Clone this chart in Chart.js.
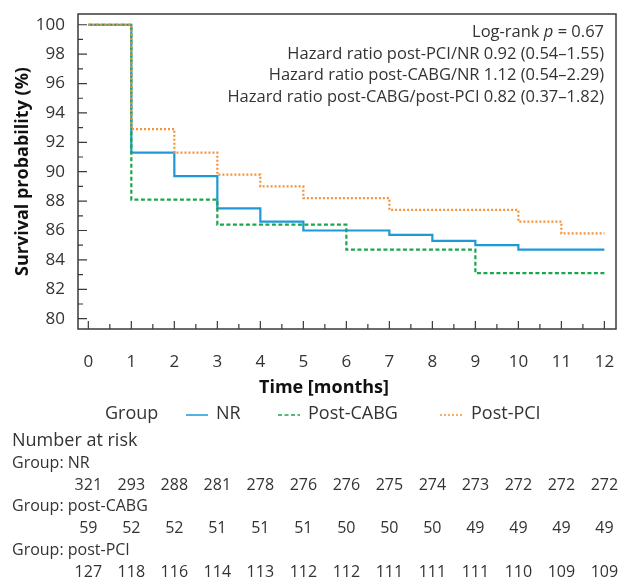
<!DOCTYPE html>
<html>
<head>
<meta charset="utf-8">
<script src="https://cdn.jsdelivr.net/npm/chart.js@4.4.0/dist/chart.umd.min.js"></script>
<style>
  html, body { margin: 0; padding: 0; background: #fff; }
  #wrap { width: 622px; height: 579px; }
</style>
</head>
<body>
<div id="wrap"><canvas id="km" width="622" height="579"></canvas></div>
<script>
// Meses e curvas de sobrevida
const meses = [0, 1, 2, 3, 4, 5, 6, 7, 8, 9, 10, 11, 12];
const survNR   = [100, 91.3, 89.7, 87.5, 86.6, 86.0, 86.0, 85.7, 85.3, 85.0, 84.7, 84.7, 84.7];
const survCABG = [100, 88.1, 88.1, 86.4, 86.4, 86.4, 84.7, 84.7, 84.7, 83.1, 83.1, 83.1, 83.1];
const survPCI  = [100, 92.9, 91.3, 89.8, 89.0, 88.2, 88.2, 87.4, 87.4, 87.4, 86.6, 85.8, 85.8];

// Numero em risco
const riscoNR   = [321, 293, 288, 281, 278, 276, 276, 275, 274, 273, 272, 272, 272];
const riscoCABG = [59, 52, 52, 51, 51, 51, 50, 50, 50, 49, 49, 49, 49];
const riscoPCI  = [127, 118, 116, 114, 113, 112, 112, 111, 111, 111, 110, 109, 109];

const nomes = ["NR", "Post-CABG", "Post-PCI"];
const gruposRisco = ["Group: NR", "Group: post-CABG", "Group: post-PCI"];
const anotacoes = [
  "Hazard ratio post-PCI/NR 0.92 (0.54\u20131.55)",
  "Hazard ratio post-CABG/NR 1.12 (0.54\u20132.29)",
  "Hazard ratio post-CABG/post-PCI 0.82 (0.37\u20131.82)"
];

const FONTE = "'Open Sans', 'Noto Sans', sans-serif";
const COR_TXT = "#333";

const pontos = arr => meses.map((m, i) => ({ x: m, y: arr[i] }));

// Ticks internos, moldura, anotações, legenda e tabela de risco
const extras = {
  id: "extras",
  afterDraw(chart) {
    const { ctx, chartArea: a, scales } = chart;
    const x = scales.x, y = scales.y;
    ctx.save();

    // moldura
    ctx.strokeStyle = "#3a3a3a";
    ctx.lineWidth = 1.5;
    ctx.strokeRect(a.left, a.top, a.right - a.left, a.bottom - a.top);

    // ticks para dentro
    ctx.lineWidth = 1.2;
    ctx.beginPath();
    x.ticks.forEach(t => {
      const px = x.getPixelForValue(t.value);
      ctx.moveTo(px, a.bottom); ctx.lineTo(px, a.bottom - 8);
      const mid = t.value + 0.5;
      if (mid < x.max) {
        const pm = x.getPixelForValue(mid);
        ctx.moveTo(pm, a.bottom); ctx.lineTo(pm, a.bottom - 5);
      }
    });
    y.ticks.forEach(t => {
      const py = y.getPixelForValue(t.value);
      ctx.moveTo(a.left, py); ctx.lineTo(a.left + 9, py);
      const mid = t.value + 1;
      if (mid < y.max) {
        const pm = y.getPixelForValue(mid);
        ctx.moveTo(a.left, pm); ctx.lineTo(a.left + 5, pm);
      }
    });
    ctx.stroke();

    // anotações (canto superior direito)
    ctx.fillStyle = COR_TXT;
    ctx.textBaseline = "middle";
    ctx.textAlign = "left";
    const xr = a.right - 12;
    ctx.font = "16.5px " + FONTE;
    const p1 = "Log-rank ", p3 = " = 0.67";
    const w1 = ctx.measureText(p1).width, w3 = ctx.measureText(p3).width;
    ctx.font = "italic 16.5px " + FONTE;
    const w2 = ctx.measureText("p").width;
    let cx = xr - w1 - w2 - w3;
    ctx.font = "16.5px " + FONTE;
    ctx.fillText(p1, cx, 32);
    ctx.font = "italic 16.5px " + FONTE;
    ctx.fillText("p", cx + w1, 32);
    ctx.font = "16.5px " + FONTE;
    ctx.fillText(p3, cx + w1 + w2, 32);
    ctx.textAlign = "right";
    anotacoes.forEach((s, i) => ctx.fillText(s, xr, 54 + i * 21.7));

    // titulo do eixo x
    ctx.textAlign = "center";
    ctx.fillStyle = "#111";
    ctx.font = "bold 18px " + FONTE;
    ctx.fillText("Time [months]", 324, 388);

    // legenda
    ctx.fillStyle = COR_TXT;
    ctx.font = "18px " + FONTE;
    ctx.textAlign = "left";
    ctx.fillText("Group", 105, 414);
    const legX = [[186, 216], [278, 308], [440, 471]];
    chart.data.datasets.forEach((ds, i) => {
      ctx.save();
      ctx.strokeStyle = ds.borderColor;
      ctx.lineWidth = 1.5;
      ctx.setLineDash(ds.borderDash || []);
      ctx.beginPath();
      ctx.moveTo(legX[i][0], 415); ctx.lineTo(legX[i][0] + 22, 415);
      ctx.stroke();
      ctx.restore();
      ctx.fillText(ds.label, legX[i][1], 414);
    });

    // numero em risco
    ctx.font = "18px " + FONTE;
    ctx.fillText("Number at risk", 12, 441);
    ctx.font = "16px " + FONTE;
    const riscos = [riscoNR, riscoCABG, riscoPCI];
    gruposRisco.forEach((g, i) => {
      const yg = 463 + i * 43.5;
      ctx.textAlign = "left";
      ctx.fillText(g, 12, yg);
      ctx.textAlign = "center";
      riscos[i].forEach((n, j) => ctx.fillText(String(n), x.getPixelForValue(meses[j]), yg + 22));
    });

    ctx.restore();
  }
};

new Chart(document.getElementById("km"), {
  type: "line",
  data: {
    datasets: [
      { label: nomes[0], data: pontos(survNR), borderColor: "#1c9ad6", borderWidth: 2.2, stepped: "before", order: 3 },
      { label: nomes[1], data: pontos(survCABG), borderColor: "#1aa64c", borderWidth: 2.2, borderDash: [4, 2.5], stepped: "before", order: 2 },
      { label: nomes[2], data: pontos(survPCI), borderColor: "#f5923a", borderWidth: 2.2, borderDash: [2, 2], stepped: "before", order: 1 }
    ]
  },
  options: {
    responsive: false,
    animation: false,
    events: [],
    layout: { padding: { top: 14, right: 6, left: 0, bottom: 0 } },
    elements: { point: { radius: 0 } },
    plugins: { legend: { display: false }, tooltip: { enabled: false } },
    scales: {
      x: {
        type: "linear",
        min: -0.24, max: 12.27,
        afterFit: s => { s.height = 250; s.paddingLeft = 0; s.paddingRight = 0; },
        grid: { display: false },
        border: { display: false },
        ticks: { stepSize: 1, includeBounds: false, padding: 15, color: COR_TXT, font: { family: FONTE, size: 17 } }
      },
      y: {
        min: 79.3, max: 100.73,
        afterFit: s => { s.width = 78; s.paddingTop = 0; s.paddingBottom = 0; },
        grid: { display: false },
        border: { display: false },
        ticks: { stepSize: 2, includeBounds: false, padding: 5, color: COR_TXT, font: { family: FONTE, size: 17 } },
        title: { display: true, text: "Survival probability (%)", color: "#111", padding: { top: 12 }, font: { family: FONTE, size: 18, weight: "bold" } }
      }
    }
  },
  plugins: [extras]
});
</script>
</body>
</html>
